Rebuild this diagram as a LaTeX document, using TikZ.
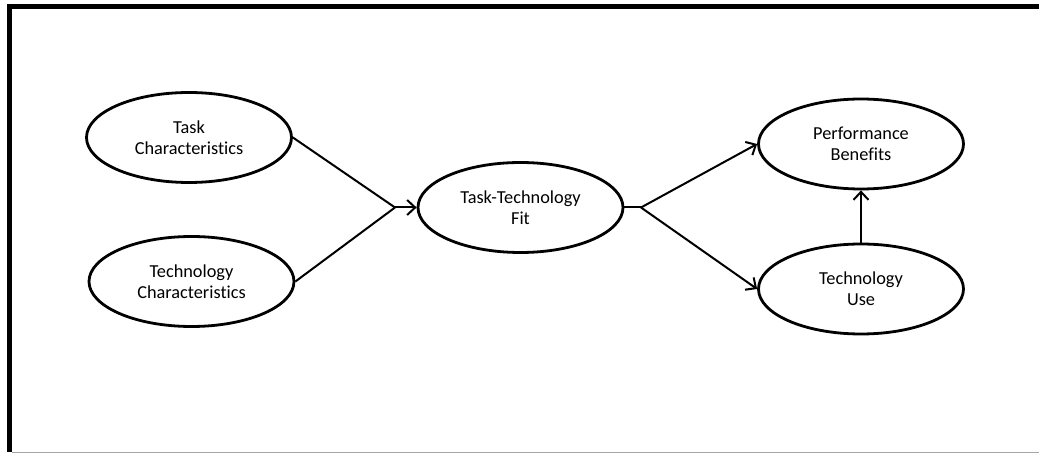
\documentclass[tikz,border=0pt]{standalone}
\usepackage{fontspec}
\setmainfont{Carlito}[Ligatures={NoCommon}]
\usetikzlibrary{shapes.geometric,arrows.meta}

\tikzset{
  construct/.style={ellipse, draw=black, line width=2.8pt, inner sep=0pt,
    minimum width=205pt, minimum height=90pt, align=center,
    font=\fontsize{18.3}{20.6}\selectfont},
  link/.style={draw=black, line width=2pt},
  flow/.style={link, -{Straight Barb[length=8pt,width=15pt,line width=2pt]}},
}

\begin{document}
\begin{tikzpicture}[x=1pt,y=-1pt]
  \useasboundingbox (0,0) rectangle (1039,454);

  % page frame
  \draw[line width=4.8pt, line join=miter] (9.5,452) -- (9.5,6.5) -- (1040,6.5);
  \draw[black!35, line width=1.3pt] (12,452.6) -- (1040,452.6);

  % constructs
  \node[construct] (task) at (189,137.5) {Task\\Characteristics};
  \node[construct] (tech) at (191.5,281.5) {Technology\\Characteristics};
  \node[construct] (ttf)  at (520.5,207.5) {Task-Technology\\Fit};
  \node[construct] (perf) at (861,144) {Performance\\Benefits};
  \node[construct] (use)  at (861,289) {Technology\\Use};

  % branching points
  \coordinate (jin)  at (395,207.5);
  \coordinate (jout) at (641,207.5);

  % relations
  \draw[link] (task.east) -- (jin);
  \draw[link] (tech.east) -- (jin);
  \draw[flow] (jin) -- (ttf.west);
  \draw[link] (ttf.east) -- (jout);
  \draw[flow] (jout) -- (perf.west);
  \draw[flow] (jout) -- (use.west);
  \draw[flow] (use.north) -- (perf.south);
\end{tikzpicture}
\end{document}
